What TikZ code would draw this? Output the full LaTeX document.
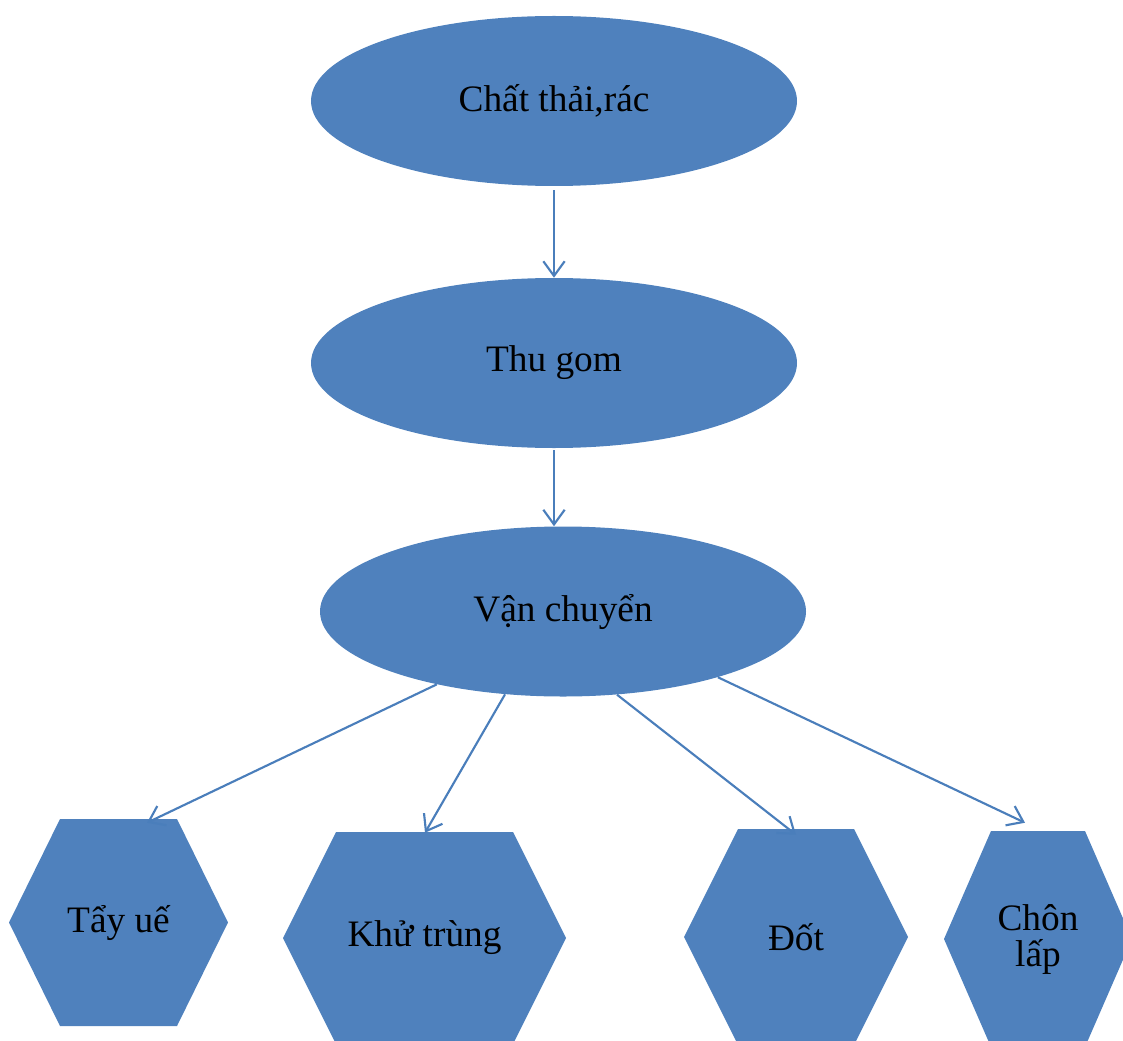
\documentclass[tikz,border=0pt]{standalone}
\usepackage{fontspec}
\setmainfont{Liberation Serif}
\usetikzlibrary{shapes.geometric,arrows.meta,calc}
\definecolor{boxblue}{HTML}{4F81BD}
\definecolor{lineblue}{HTML}{4A7EBB}
\newcommand{\lowered}[1]{\raisebox{-2pt}{#1}}
\begin{document}
\begin{tikzpicture}[x=0.75pt,y=-0.75pt,
  every node/.style={font=\fontsize{28}{27}\selectfont, text=black},
  oval/.style={ellipse, fill=boxblue, inner sep=0pt,
    minimum width=364.5pt, minimum height=127.5pt},
  hexbox/.style={rectangle, inner sep=0pt, align=center,
    path picture={
      \fill[boxblue] (path picture bounding box.west)
        -- ($(path picture bounding box.north west)+(#1,0)$)
        -- ($(path picture bounding box.north east)+(-#1,0)$)
        -- (path picture bounding box.east)
        -- ($(path picture bounding box.south east)+(-#1,0)$)
        -- ($(path picture bounding box.south west)+(#1,0)$)
        -- cycle;}},
  conn/.style={draw=lineblue, line width=1.6pt,
    -{Straight Barb[length=11pt,width=16pt,line width=1.6pt]}}
]
\useasboundingbox (0,0) rectangle (1123,1041);

% process chain
\node[oval] (e1) at (554,101) {\lowered{Chất thải,rác}};
\node[oval] (e2) at (554,363) {\lowered{Thu gom}};
\node[oval] (e3) at (563,611.5) {\lowered{Vận chuyển}};

% treatment options
\node[hexbox=51, minimum width=164.25pt, minimum height=155.25pt] (h1) at (118.5,922.5) {Tẩy uế};
\node[hexbox=53, minimum width=212.25pt, minimum height=159pt] (h2) at (424.5,938) {\lowered{Khử trùng}};
\node[hexbox=54, minimum width=168pt, minimum height=162pt] (h3) at (796,937) {Đốt};
\node[hexbox=47, minimum width=141pt, minimum height=162pt] (h4) at (1038,939) {Chôn\\lấp};

% arrow end points
\coordinate (s1) at ($(e1.south)+(0,4)$);
\coordinate (s2) at ($(e2.south)+(0,2)$);
\coordinate (m3) at (e2.south |- e3.north);
\coordinate (t1) at ($(h1.north)+(28.5,4)$);
\coordinate (t2) at ($(h2.north)+(0.5,1)$);
\coordinate (t3) at ($(h3.north)+(0,6)$);
\coordinate (t4) at ($(h4.north)+(-13,-8)$);

% connectors
\draw[conn] (s1) -- (e2.north);
\draw[conn] (s2) -- (m3);
\draw[conn] (e3.210.6) -- (t1);
\draw[conn] (e3.235) -- (t2);
\draw[conn] (e3.303) -- (t3);
\draw[conn] (e3.337) -- (t4);
\end{tikzpicture}
\end{document}
